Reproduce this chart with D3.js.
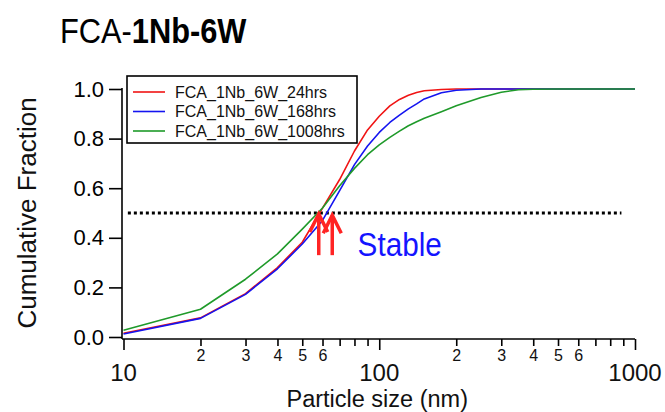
<!DOCTYPE html>
<html>
<head>
<meta charset="utf-8">
<script src="https://cdn.jsdelivr.net/npm/d3@7"></script>
<style>
  body { margin: 0; background: #fff; }
  svg { display: block; font-family: "Liberation Sans", Arial, sans-serif; }
</style>
</head>
<body>
<svg id="chart" width="665" height="412"></svg>
<script>
// particle sizes (nm) where the cumulative curves were sampled
const sizes = [10, 20, 30, 40, 50, 60, 70, 80, 90, 100, 110, 120, 130, 140, 150, 175, 200, 250, 300, 350, 400, 500, 600, 700, 800, 900, 1000];

const red24 = [0.015, 0.077, 0.175, 0.28, 0.382, 0.52, 0.635, 0.75, 0.835, 0.89, 0.932, 0.958, 0.975, 0.986, 0.993, 0.998, 1, 1, 1, 1, 1, 1, 1, 1, 1, 1, 1];
const blue168 = [0.012, 0.075, 0.172, 0.275, 0.375, 0.47, 0.59, 0.695, 0.77, 0.825, 0.865, 0.895, 0.92, 0.94, 0.96, 0.985, 0.995, 1, 1, 1, 1, 1, 1, 1, 1, 1, 1];
const green1008 = [0.027, 0.112, 0.233, 0.335, 0.435, 0.52, 0.61, 0.68, 0.735, 0.775, 0.805, 0.83, 0.852, 0.868, 0.882, 0.908, 0.932, 0.966, 0.987, 0.997, 0.999, 1, 1, 1, 1, 1, 1];

const seriesNames = ["FCA_1Nb_6W_24hrs", "FCA_1Nb_6W_168hrs", "FCA_1Nb_6W_1008hrs"];
const seriesColors = ["#f01414", "#1414f0", "#1f9a2a"];

const yTicks = [0, 0.2, 0.4, 0.6, 0.8, 1.0];
const xMajor = [10, 100, 1000];
const xMinorLabelled = [2, 3, 4, 5, 6];

// median reference line and the two arrows
const medianLevel = 0.5;
const dottedRange = [10.4, 885];
const arrowSizes = [58, 65.5];
const arrowTip = [0.5, 0.495];
const arrowBase = 0.33;

const svg = d3.select("#chart");
const width = 665;
const height = 412;

svg.append("rect").attr("width", width).attr("height", height).attr("fill", "#fff");

const x = d3.scaleLog().domain([10, 1000]).range([123.5, 635]);
const y = d3.scaleLinear().domain([0, 1]).range([337, 89]);

// title (the original is a bit condensed)
const title = svg.append("text")
  .attr("transform", "translate(60,43) scale(0.88,1)")
  .attr("font-size", 35)
  .attr("fill", "#000");
title.append("tspan").text("FCA-");
title.append("tspan").attr("font-weight", "bold").text("1Nb-6W");

// ---------------------------------------------------------------
// y axis
const yAxis = svg.append("g")
  .attr("transform", "translate(122,0)")
  .call(d3.axisLeft(y).tickValues(yTicks).tickSize(13).tickPadding(5).tickFormat(d3.format(".1f")));
yAxis.select(".domain").remove();
yAxis.selectAll("line").attr("stroke", "#000").attr("stroke-width", 1.6);
yAxis.selectAll("text").attr("font-size", 22).attr("fill", "#000").attr("font-family", "Liberation Sans, Arial, sans-serif");
svg.append("line")
  .attr("x1", 122).attr("x2", 122)
  .attr("y1", y(1) - 1).attr("y2", 339)
  .attr("stroke", "#000").attr("stroke-width", 1.6);

svg.append("text")
  .attr("transform", `translate(36,${(y(0) + y(1)) / 2}) rotate(-90)`)
  .attr("text-anchor", "middle")
  .attr("font-size", 26)
  .attr("fill", "#111")
  .text("Cumulative Fraction");

// ---------------------------------------------------------------
// x axis (log, igor style: small digits on minor ticks, big decades)
const allTicks = [];
[10, 100].forEach((dec) => {
  for (let m = 1; m < 10; m++) allTicks.push(dec * m);
});
allTicks.push(1000);

const xAxis = svg.append("g")
  .attr("transform", "translate(0,339)")
  .call(
    d3.axisBottom(x)
      .tickValues(allTicks)
      .tickSize(7)
      .tickPadding(4)
      .tickFormat((d) => {
        const m = Math.round(d / Math.pow(10, Math.floor(Math.log10(d) + 1e-9)));
        return xMinorLabelled.includes(m) ? String(m) : "";
      })
  );
xAxis.select(".domain").attr("d", `M122,0H${x(1000)}`).attr("stroke", "#000").attr("stroke-width", 1.6);
xAxis.selectAll(".tick line")
  .attr("stroke", "#000")
  .attr("stroke-width", 1.6)
  .attr("y2", (d) => (xMajor.includes(d) ? 11 : 7));
xAxis.selectAll(".tick text").attr("font-size", 16).attr("fill", "#111").attr("font-family", "Liberation Sans, Arial, sans-serif");

svg.selectAll("text.major")
  .data(xMajor)
  .join("text")
  .attr("class", "major")
  .attr("x", (d) => x(d))
  .attr("y", 381)
  .attr("text-anchor", "middle")
  .attr("font-size", 24)
  .attr("fill", "#111")
  .text((d) => d);

svg.append("text")
  .attr("x", x(100) - 2)
  .attr("y", 407)
  .attr("text-anchor", "middle")
  .attr("font-size", 23.5)
  .attr("fill", "#111")
  .text("Particle size (nm)");

// ---------------------------------------------------------------
// dotted median line
svg.append("line")
  .attr("x1", x(dottedRange[0])).attr("x2", x(dottedRange[1]))
  .attr("y1", y(medianLevel)).attr("y2", y(medianLevel))
  .attr("stroke", "#000").attr("stroke-width", 3)
  .attr("stroke-dasharray", "3,3");

// curves
const seriesData = [red24, blue168, green1008].map((vals, i) => ({
  name: seriesNames[i],
  color: seriesColors[i],
  values: sizes.map((s, j) => ({ s, v: vals[j] }))
}));

const line = d3.line().x((d) => x(d.s)).y((d) => y(d.v));

svg.append("g")
  .selectAll("path")
  .data(seriesData)
  .join("path")
  .attr("d", (d) => line(d.values))
  .attr("fill", "none")
  .attr("stroke", (d) => d.color)
  .attr("stroke-width", 1.6)
  .attr("stroke-linejoin", "round");

// arrows
const arrows = svg.append("g").attr("stroke", "#ff2424").attr("stroke-width", 3.5).attr("fill", "none");
arrowSizes.forEach((s, i) => {
  const ax = x(s);
  const tip = y(arrowTip[i]);
  arrows.append("line").attr("x1", ax).attr("x2", ax).attr("y1", tip + 1).attr("y2", y(arrowBase));
  arrows.append("path").attr("d", `M${ax - 9},${tip + 19}L${ax},${tip + 1}L${ax + 9},${tip + 19}`);
});

svg.append("text")
  .attr("transform", `translate(${x(82.3)},${y(0.327)}) scale(0.9,1)`)
  .attr("font-size", 33)
  .attr("fill", "#1414ff")
  .text("Stable");

// ---------------------------------------------------------------
// legend
const legend = svg.append("g").attr("transform", "translate(127,76)");
legend.append("rect")
  .attr("width", 230).attr("height", 67)
  .attr("fill", "#fff").attr("stroke", "#000").attr("stroke-width", 1.6);
const rows = legend.selectAll("g.row")
  .data(seriesData)
  .join("g")
  .attr("class", "row")
  .attr("transform", (d, i) => `translate(0,${16 + i * 19.5})`);
rows.append("line")
  .attr("x1", 6).attr("x2", 38)
  .attr("stroke", (d) => d.color).attr("stroke-width", 1.6);
rows.append("text")
  .attr("x", 48).attr("y", 5.5)
  .attr("font-size", 16)
  .attr("fill", "#111")
  .text((d) => d.name);
</script>
</body>
</html>
